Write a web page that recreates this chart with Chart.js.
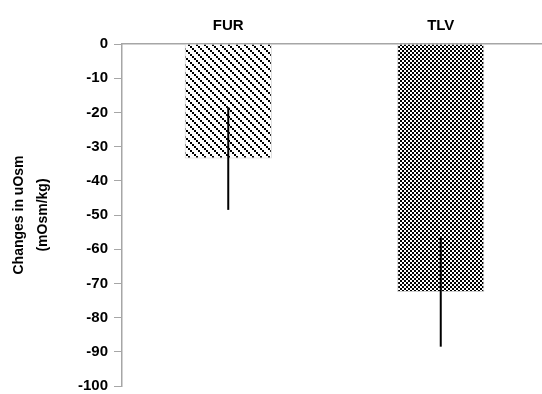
<!DOCTYPE html>
<html>
<head>
<meta charset="utf-8">
<script src="https://cdn.jsdelivr.net/npm/chart.js@4"></script>
<style>
  html, body { margin: 0; padding: 0; background: #fff; overflow: hidden; }
  #wrap { width: 542px; height: 394px; overflow: hidden; }
</style>
</head>
<body>
<div id="wrap"><canvas id="chart" width="547" height="401"></canvas></div>
<script>
const categories = ['FUR', 'TLV'];
const changes = [-33.5, -72.5];
const errors = [15, 16];
const yTicks = [0, -10, -20, -30, -40, -50, -60, -70, -80, -90, -100];

// diagonal dotted stripes for FUR
function stripePattern() {
  const c = document.createElement('canvas');
  c.width = 8; c.height = 8;
  const g = c.getContext('2d');
  g.fillStyle = '#fff';
  g.fillRect(0, 0, 8, 8);
  g.fillStyle = '#000';
  for (let k = 0; k < 8; k += 2) g.fillRect(k, k, 2, 2);
  return g.createPattern(c, 'repeat');
}

// small checkerboard for TLV
function checkPattern() {
  const c = document.createElement('canvas');
  c.width = 4; c.height = 4;
  const g = c.getContext('2d');
  g.fillStyle = '#fff';
  g.fillRect(0, 0, 4, 4);
  g.fillStyle = '#000';
  g.fillRect(0, 0, 2, 2);
  g.fillRect(2, 2, 2, 2);
  return g.createPattern(c, 'repeat');
}

const errorBars = {
  id: 'errorBars',
  afterDatasetsDraw(chart) {
    const ctx = chart.ctx;
    const y = chart.scales.y;
    const meta = chart.getDatasetMeta(0);
    ctx.save();
    ctx.strokeStyle = '#000';
    ctx.lineWidth = 2;
    meta.data.forEach((bar, i) => {
      const v = changes[i];
      ctx.beginPath();
      ctx.moveTo(bar.x, y.getPixelForValue(v + errors[i]));
      ctx.lineTo(bar.x, y.getPixelForValue(v - errors[i]));
      ctx.stroke();
    });
    ctx.restore();
  }
};

const font = { family: 'Liberation Sans, Arial, sans-serif', size: 15, weight: 'bold' };

new Chart(document.getElementById('chart'), {
  type: 'bar',
  data: {
    labels: categories,
    datasets: [{
      data: changes,
      backgroundColor: [stripePattern(), checkPattern()],
      borderColor: '#d0d0d0',
      borderWidth: 1,
      borderSkipped: 'start',
      categoryPercentage: 0.82,
      barPercentage: 0.5
    }]
  },
  options: {
    responsive: false,
    animation: false,
    layout: { padding: { top: 8, right: 0, bottom: 0, left: 8 } },
    plugins: { legend: { display: false }, tooltip: { enabled: false } },
    scales: {
      x: {
        position: 'top',
        grid: { drawOnChartArea: false, drawTicks: false },
        border: { color: '#a6a6a6', width: 1.5 },
        ticks: { color: '#000', font: font, padding: 9 },
        afterFit(s) { s.height = 36; }
      },
      y: {
        min: -100,
        max: 0,
        afterBuildTicks(s) { s.ticks = yTicks.map(v => ({ value: v })); },
        grid: { drawOnChartArea: false, tickLength: 8, tickColor: '#a6a6a6' },
        border: { color: '#a6a6a6', width: 1.5 },
        ticks: { color: '#000', font: font, padding: 6 },
        title: {
          display: true,
          text: ['Changes in uOsm', '(mOsm/kg)'],
          color: '#000',
          font: { family: 'Liberation Sans, Arial, sans-serif', size: 14, weight: 'bold', lineHeight: 1.65 },
          padding: { top: 0, bottom: 10 }
        },
        afterFit(s) { s.width = 114; }
      }
    }
  },
  plugins: [errorBars]
});
</script>
</body>
</html>
